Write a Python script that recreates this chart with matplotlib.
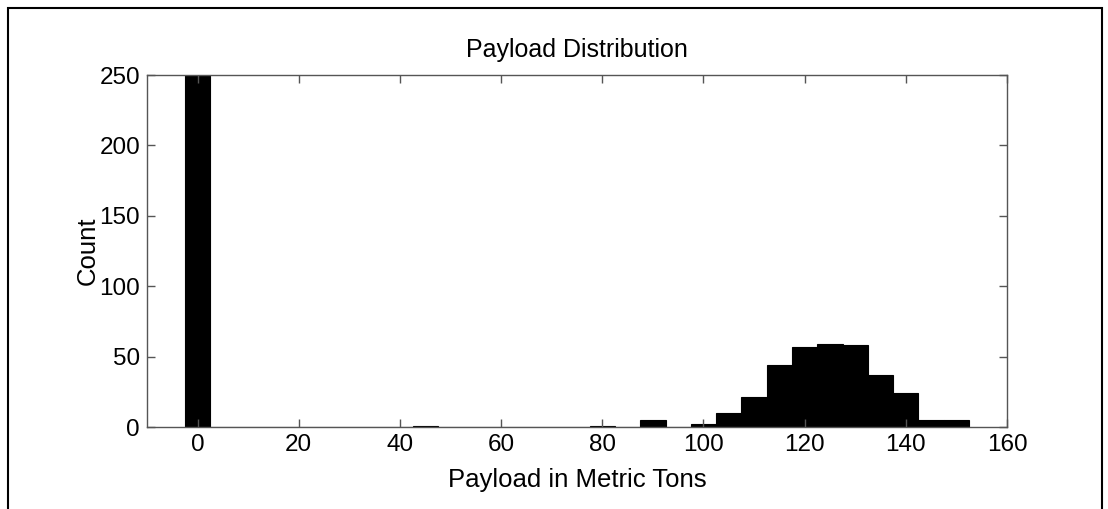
import matplotlib.pyplot as plt
from matplotlib.patches import Rectangle

# histogram bin centres (metric tons) and counts
centers = [0, 5, 10, 15, 20, 25, 30, 35, 40, 45, 50, 55, 60, 65, 70, 75,
           80, 85, 90, 95, 100, 105, 110, 115, 120, 125, 130, 135, 140, 145, 150]
counts = [250, 0, 0, 0, 0, 0, 0, 0, 0, 1, 0, 0, 0, 0, 0, 0,
          1, 0, 5, 0, 2, 10, 21, 44, 57, 59, 58, 37, 24, 5, 5]
xticks = [0, 20, 40, 60, 80, 100, 120, 140, 160]
yticks = [0, 50, 100, 150, 200, 250]

plt.rcParams['font.family'] = ['Liberation Sans', 'DejaVu Sans']

fig = plt.figure(figsize=(11.08, 5.09), dpi=100)
ax = fig.add_axes([147 / 1108, 1 - 427 / 509, 860 / 1108, 352 / 509])

ax.bar(centers, counts, width=5, color='black', edgecolor='black', linewidth=0.8)

ax.set_xlim(-10, 160)
ax.set_ylim(0, 250)
ax.set_xticks(xticks)
ax.set_yticks(yticks)
ax.tick_params(direction='in', length=6, width=1, color='#555555',
               top=True, right=True, labelsize=17.5, pad=5)
for s in ax.spines.values():
    s.set_color('#555555')
    s.set_linewidth(1)

ax.set_title('Payload Distribution', fontsize=18, pad=13)
ax.set_xlabel('Payload in Metric Tons', fontsize=18.5, labelpad=9)
ax.set_ylabel('Count', fontsize=18.5, labelpad=0)

# outer figure frame (bottom edge falls outside the image)
fig.patches.append(Rectangle((8 / 1108, -0.05), 1094 / 1108, 1 - 8 / 509 + 0.05,
                             transform=fig.transFigure, fill=False,
                             edgecolor='black', linewidth=1.5))

fig.savefig('out.png', dpi=100)
